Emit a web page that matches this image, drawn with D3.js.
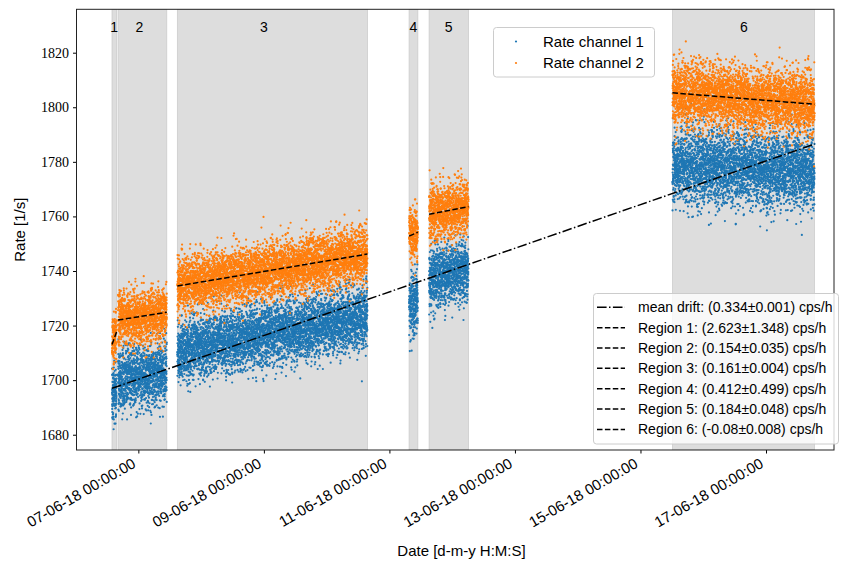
<!DOCTYPE html>
<html><head><meta charset="utf-8">
<script src="https://cdn.jsdelivr.net/npm/d3@7"></script>
<style>body{margin:0;background:#fff}svg{display:block}</style>
</head><body>
<svg id="chart" width="842" height="561"></svg>
<script>
// ---- data ----
const regionNames = ["1", "2", "3", "4", "5", "6"];
const regionStart = ["2018-06-06T13:56Z", "2018-06-06T16:14Z", "2018-06-07T14:55Z", "2018-06-11T07:32Z", "2018-06-11T15:11Z", "2018-06-15T12:14Z"];
const regionEnd   = ["2018-06-06T15:39Z", "2018-06-07T10:52Z", "2018-06-10T15:35Z", "2018-06-11T10:52Z", "2018-06-12T06:13Z", "2018-06-17T18:33Z"];
const regionLabelTime = ["2018-06-06T14:47Z", "2018-06-07T00:23Z", "2018-06-09T00:00Z", "2018-06-11T09:12Z", "2018-06-11T22:40Z", "2018-06-16T15:30Z"];
// channel 2 linear fits per region (start / end value, 1/s)
const fitStart = [1713.1, 1722.0, 1734.5, 1752.8, 1760.8, 1805.3];
const fitEnd   = [1717.6, 1724.9, 1746.2, 1754.2, 1763.6, 1801.1];
// channel 1 cloud centre per region (start / end value, 1/s)
const ch1Start = [1694.0, 1700.0, 1711.0, 1727.0, 1737.0, 1779.0];
const ch1End   = [1697.0, 1703.0, 1723.0, 1729.0, 1741.0, 1776.5];
// cloud spread (1/s)
const ch1Spread = [5.5, 5.6, 5.6, 5.5, 5.6, 6.8];
const ch2Spread = [5.0, 5.0, 5.0, 5.0, 5.0, 5.8];
// mean drift line
const driftStart = 1697.0, driftEnd = 1786.5;
const legendLabels = [
  "mean drift: (0.334\u00B10.001) cps/h",
  "Region 1: (2.623\u00B11.348) cps/h",
  "Region 2: (0.154\u00B10.035) cps/h",
  "Region 3: (0.161\u00B10.004) cps/h",
  "Region 4: (0.412\u00B10.499) cps/h",
  "Region 5: (0.184\u00B10.048) cps/h",
  "Region 6: (-0.08\u00B10.008) cps/h"
];
const seriesNames = ["Rate channel 1", "Rate channel 2"];
const seriesColors = ["#1f77b4", "#ff7f0e"];
const xTickDates = ["2018-06-07T00:00Z", "2018-06-09T00:00Z", "2018-06-11T00:00Z", "2018-06-13T00:00Z", "2018-06-15T00:00Z", "2018-06-17T00:00Z"];
const xTickLabels = ["07-06-18 00:00:00", "09-06-18 00:00:00", "11-06-18 00:00:00", "13-06-18 00:00:00", "15-06-18 00:00:00", "17-06-18 00:00:00"];
const yTicks = [1680, 1700, 1720, 1740, 1760, 1780, 1800, 1820];

// ---- layout ----
const SANS = "Liberation Sans, Arial, Helvetica, sans-serif";
const svg = d3.select("#chart");
const L = 76.5, R = 834, T = 9.3, B = 450;
const x = d3.scaleUtc().domain([new Date("2018-06-06T00:21Z"), new Date("2018-06-18T02:00Z")]).range([L, R]);
const y = d3.scaleLinear().domain([1674.4, 1835.9]).range([B, T]);

svg.append("defs").append("clipPath").attr("id", "clip")
  .append("rect").attr("x", L).attr("y", T).attr("width", R - L).attr("height", B - T);

const regions = regionNames.map((n, i) => ({
  name: n, t0: new Date(regionStart[i]), t1: new Date(regionEnd[i]), tl: new Date(regionLabelTime[i]),
  f0: fitStart[i], f1: fitEnd[i], c0: ch1Start[i], c1: ch1End[i],
  s1: ch1Spread[i], s2: ch2Spread[i]
}));
const plot = svg.append("g").attr("clip-path", "url(#clip)");
plot.selectAll("rect.reg").data(regions).join("rect").attr("class", "reg")
  .attr("x", d => x(d.t0)).attr("width", d => x(d.t1) - x(d.t0))
  .attr("y", T).attr("height", B - T)
  .attr("fill", "#dddddd").attr("stroke", "#cccccc").attr("stroke-width", 0.8);

// deterministic scatter texture around the read centres (one sample per 50 s)
let seed = 20180606;
function u() { seed = (seed * 1664525 + 1013904223) >>> 0; return (seed + 0.5) / 4294967296; }
function gauss() { return Math.sqrt(-2 * Math.log(u())) * Math.cos(2 * Math.PI * u()); }
const pts1 = [], pts2 = [];
regions.forEach(r => {
  const n = Math.round((r.t1 - r.t0) / 50000);
  for (let i = 0; i < n; i++) {
    const f = (i + 0.5) / n;
    const t = new Date(+r.t0 + f * (r.t1 - r.t0));
    pts1.push({t, v: r.c0 + f * (r.c1 - r.c0) + r.s1 * gauss()});
    pts2.push({t, v: r.f0 + f * (r.f1 - r.f0) + r.s2 * gauss()});
  }
});
[pts1, pts2].forEach((pts, k) => {
  plot.append("g").attr("fill", seriesColors[k]).selectAll("circle").data(pts).join("circle")
    .attr("cx", d => x(d.t)).attr("cy", d => y(d.v)).attr("r", 1.1);
});

// fit lines
plot.selectAll("line.fit").data(regions).join("line").attr("class", "fit")
  .attr("x1", d => x(d.t0)).attr("x2", d => x(d.t1))
  .attr("y1", d => y(d.f0)).attr("y2", d => y(d.f1))
  .attr("stroke", "#000").attr("stroke-width", 1.5).attr("stroke-dasharray", "5.5,2.4");
plot.append("line")
  .attr("x1", x(regions[0].t0)).attr("x2", x(regions[5].t1))
  .attr("y1", y(driftStart)).attr("y2", y(driftEnd))
  .attr("stroke", "#000").attr("stroke-width", 1.5).attr("stroke-dasharray", "9.6,2.4,1.5,2.4");

// region labels
svg.selectAll("text.rl").data(regions).join("text").attr("class", "rl")
  .attr("x", d => x(d.tl)).attr("y", 32)
  .attr("text-anchor", "middle").attr("font-family", SANS)
  .attr("font-size", 14).text(d => d.name);

// axes
const xAxis = svg.append("g").attr("transform", `translate(0,${B})`)
  .call(d3.axisBottom(x).tickValues(xTickDates.map(d => new Date(d)))
    .tickFormat((d, i) => xTickLabels[i]).tickSize(3.5).tickSizeOuter(0));
xAxis.select(".domain").remove();
xAxis.selectAll("text").attr("font-family", SANS).attr("font-size", 15)
  .attr("fill", "#000").attr("text-anchor", "end").attr("dy", null).attr("y", 0)
  .attr("transform", "translate(-2,16.5) rotate(-30)");
xAxis.selectAll("line").attr("stroke", "#000");

const yAxis = svg.append("g").attr("transform", `translate(${L},0)`)
  .call(d3.axisLeft(y).tickValues(yTicks).tickFormat(d3.format("d")).tickSize(3.5).tickPadding(4));
yAxis.select(".domain").remove();
yAxis.selectAll("text").attr("font-family", "Liberation Serif, Times New Roman, serif").attr("font-size", 14).attr("fill", "#000");
yAxis.selectAll("line").attr("stroke", "#000");

svg.append("rect").attr("x", L).attr("y", T).attr("width", R - L).attr("height", B - T)
  .attr("fill", "none").attr("stroke", "#222").attr("stroke-width", 1);

svg.append("text").attr("x", 461.5).attr("y", 556).attr("text-anchor", "middle")
  .attr("font-family", SANS).attr("font-size", 15).text("Date [d-m-y H:M:S]");
svg.append("text").attr("transform", `translate(25,${(T + B) / 2}) rotate(-90)`).attr("text-anchor", "middle")
  .attr("font-family", SANS).attr("font-size", 15).text("Rate [1/s]");

// legend 1
const lg1 = svg.append("g");
lg1.append("rect").attr("x", 493.5).attr("y", 27.5).attr("width", 161).attr("height", 49.5).attr("rx", 3)
  .attr("fill", "#fff").attr("fill-opacity", 0.8).attr("stroke", "#cccccc");
seriesNames.forEach((s, i) => {
  lg1.append("circle").attr("cx", 516).attr("cy", 41.5 + i * 21.5).attr("r", 1.1).attr("fill", seriesColors[i]);
  lg1.append("text").attr("x", 543).attr("y", 46.8 + i * 21.5).attr("font-family", SANS)
    .attr("font-size", 15).text(s);
});

// legend 2
const lg2 = svg.append("g");
lg2.append("rect").attr("x", 593.5).attr("y", 293.5).attr("width", 245).attr("height", 150.5).attr("rx", 3)
  .attr("fill", "#fff").attr("fill-opacity", 0.8).attr("stroke", "#cccccc");
legendLabels.forEach((s, i) => {
  const cy = 307.3 + i * 20.35;
  lg2.append("line").attr("x1", 597).attr("x2", 625).attr("y1", cy).attr("y2", cy)
    .attr("stroke", "#000").attr("stroke-width", 1.5)
    .attr("stroke-dasharray", i === 0 ? "9.6,2.4,1.5,2.4" : "5.5,2.4");
  lg2.append("text").attr("x", 638).attr("y", cy + 5).attr("font-family", SANS)
    .attr("font-size", 14).text(s);
});
</script>
</body></html>
